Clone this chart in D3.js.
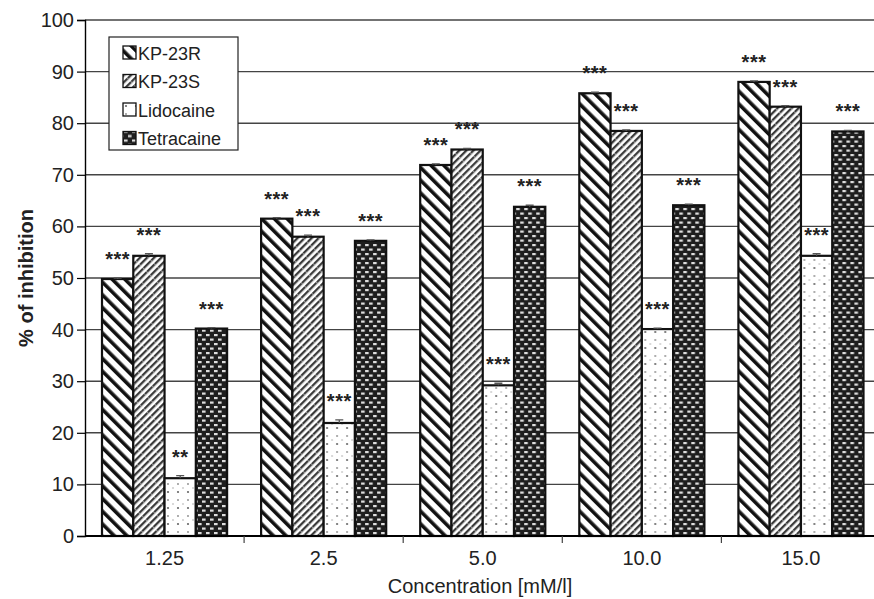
<!DOCTYPE html>
<html><head><meta charset="utf-8">
<script src="https://cdn.jsdelivr.net/npm/d3@7"></script>
<style>body{margin:0;background:#fff}svg{display:block;font-family:"Liberation Sans",Arial,sans-serif}</style>
</head><body>
<svg id="c" width="874" height="599"></svg>
<script>
const categories = ["1.25","2.5","5.0","10.0","15.0"];
const series = ["KP-23R","KP-23S","Lidocaine","Tetracaine"];
const kp23R = [49.8, 61.5, 71.9, 85.8, 88.0];
const kp23S = [54.3, 58.0, 74.9, 78.5, 83.2];
const lidocaine = [11.2, 21.9, 29.2, 40.1, 54.3];
const tetracaine = [40.2, 57.2, 63.8, 64.1, 78.4];
const errR = [0.2, 0.2, 0.2, 0.2, 0.2];
const errS = [0.4, 0.3, 0.2, 0.2, 0.2];
const errL = [0.5, 0.6, 0.4, 0.2, 0.4];
const errT = [0.2, 0.2, 0.3, 0.2, 0.2];
const sigR = ["***","***","***","***","***"];
const sigS = ["***","***","***","***","***"];
const sigL = ["**","***","***","***","***"];
const sigT = ["***","***","***","***","***"];
const yTicks = [0,10,20,30,40,50,60,70,80,90,100];

const values = [kp23R, kp23S, lidocaine, tetracaine];
const errs = [errR, errS, errL, errT];
const sigs = [sigR, sigS, sigL, sigT];

const svg = d3.select("#c");
const defs = svg.append("defs");

function stripe(id, w, sw, color, angle){
  const p = defs.append("pattern").attr("id", id).attr("patternUnits","userSpaceOnUse")
    .attr("width", w).attr("height", w).attr("patternTransform", `rotate(${angle})`);
  p.append("rect").attr("width", w).attr("height", w).attr("fill","#fff");
  p.append("rect").attr("x",0).attr("y",0).attr("width", sw).attr("height", w).attr("fill", color);
}
stripe("pR", 9, 3.6, "#111", -45);
const pS = defs.append("pattern").attr("id","pS").attr("patternUnits","userSpaceOnUse")
  .attr("width",5).attr("height",11).attr("patternTransform","rotate(45)");
pS.append("rect").attr("width",5).attr("height",11).attr("fill","#fff");
pS.append("rect").attr("width",2.3).attr("height",11).attr("fill","#3a3a3a");
pS.append("rect").attr("x",0).attr("y",5).attr("width",2.3).attr("height",0.8).attr("fill","#aaa");
const pL = defs.append("pattern").attr("id","pL").attr("patternUnits","userSpaceOnUse")
  .attr("width",10).attr("height",16);
pL.append("rect").attr("width",10).attr("height",16).attr("fill","#fff");
pL.append("circle").attr("cx",3).attr("cy",4).attr("r",0.9).attr("fill","#888");
pL.append("circle").attr("cx",3).attr("cy",12).attr("r",1.1).attr("fill","#666");
pL.append("circle").attr("cx",8).attr("cy",8).attr("r",0.8).attr("fill","#aaa");
const pT = defs.append("pattern").attr("id","pT").attr("patternUnits","userSpaceOnUse")
  .attr("width",8).attr("height",9);
pT.append("rect").attr("width",8).attr("height",9).attr("fill","#1e1e1e");
pT.append("rect").attr("x",1).attr("y",1).attr("width",3.6).attr("height",2.2).attr("fill","#ddd");
pT.append("rect").attr("x",5).attr("y",5.5).attr("width",3.6).attr("height",2.2).attr("fill","#ddd");
pT.append("rect").attr("x",-3).attr("y",5.5).attr("width",3.6).attr("height",2.2).attr("fill","#ddd");
const fills = ["url(#pR)","url(#pS)","url(#pL)","url(#pT)"];

const x0 = d3.scaleBand().domain(categories).range([85, 880.5]).padding(0);
const x1 = d3.scaleBand().domain(series).range([17, x0.bandwidth()-17]).padding(0);
const y = d3.scaleLinear().domain([0,100]).range([536, 20]);

svg.append("g").selectAll("line").data(yTicks.filter(d=>d>0)).join("line")
  .attr("x1", 85).attr("x2", 880).attr("y1", d=>y(d)).attr("y2", d=>y(d))
  .attr("stroke","#444").attr("stroke-width",1.4);

const yAxis = svg.append("g").attr("transform","translate(85,0)")
  .call(d3.axisLeft(y).tickValues(yTicks).tickSize(8).tickPadding(3).tickFormat(d3.format("d")));
yAxis.select(".domain").attr("stroke","#000").attr("stroke-width",1.4);
yAxis.selectAll(".tick line").attr("stroke","#000").attr("stroke-width",1.2);
yAxis.selectAll("text").attr("font-size",20).attr("fill","#222").attr("font-family","Liberation Sans, Arial");

const groups = svg.append("g").selectAll("g").data(categories).join("g")
  .attr("transform", c => `translate(${x0(c)},0)`);
series.forEach((s, si) => {
  groups.append("rect")
    .attr("x", x1(s)).attr("width", x1.bandwidth())
    .attr("y", (c,i)=>y(values[si][i])).attr("height", (c,i)=>y(0)-y(values[si][i]))
    .attr("fill", fills[si]).attr("stroke","#111").attr("stroke-width",2.2);
  groups.append("path")
    .attr("d", (c,i)=>{
      const cx = x1(s)+x1.bandwidth()/2, v=values[si][i], e=errs[si][i];
      return `M${cx-4},${y(v+e)}H${cx+4}M${cx},${y(v+e)}V${y(v)}`;
    }).attr("stroke","#555").attr("stroke-width",1.3).attr("fill","none");
  groups.append("text")
    .attr("x", x1(s)+x1.bandwidth()/2)
    .attr("y", (c,i)=>y(values[si][i]+errs[si][i]) - 12)
    .attr("text-anchor","middle").attr("font-size",20).attr("font-weight","bold").attr("fill","#222")
    .attr("letter-spacing",0.5)
    .text((c,i)=>sigs[si][i]);
});

const xAxis = svg.append("g").attr("transform","translate(0,536)");
xAxis.append("line").attr("x1",85).attr("x2",880).attr("stroke","#000").attr("stroke-width",2);
xAxis.selectAll(".bt").data(categories.slice(1)).join("line").attr("class","bt")
  .attr("x1", c=>x0(c)).attr("x2", c=>x0(c)).attr("y1",0).attr("y2",7).attr("stroke","#444").attr("stroke-width",1.2);
xAxis.selectAll("text").data(categories).join("text")
  .attr("x", c=>x0(c)+x0.bandwidth()/2).attr("y", 29)
  .attr("text-anchor","middle").attr("font-size",20).attr("fill","#222").text(c=>c);

svg.append("text").attr("x", 480).attr("y", 593).attr("text-anchor","middle")
  .attr("font-size",20).attr("fill","#222").text("Concentration [mM/l]");
svg.append("text").attr("transform","translate(33,278) rotate(-90)").attr("text-anchor","middle")
  .attr("font-size",20).attr("font-weight","bold").attr("fill","#222").text("% of inhibition");

const lg = svg.append("g").attr("transform","translate(109,37)");
lg.append("rect").attr("width",129).attr("height",113).attr("fill","#fff").attr("stroke","#222").attr("stroke-width",1.2);
const li = lg.selectAll("g").data(series).join("g").attr("transform",(d,i)=>`translate(14,${16+i*28.5})`);
li.append("rect").attr("y",-7).attr("width",13).attr("height",13).attr("fill",(d,i)=>fills[i]).attr("stroke","#111").attr("stroke-width",1.3);
li.append("text").attr("x",15).attr("y",6.5).attr("font-size",18).attr("fill","#222").text(d=>d);
</script>
</body></html>
